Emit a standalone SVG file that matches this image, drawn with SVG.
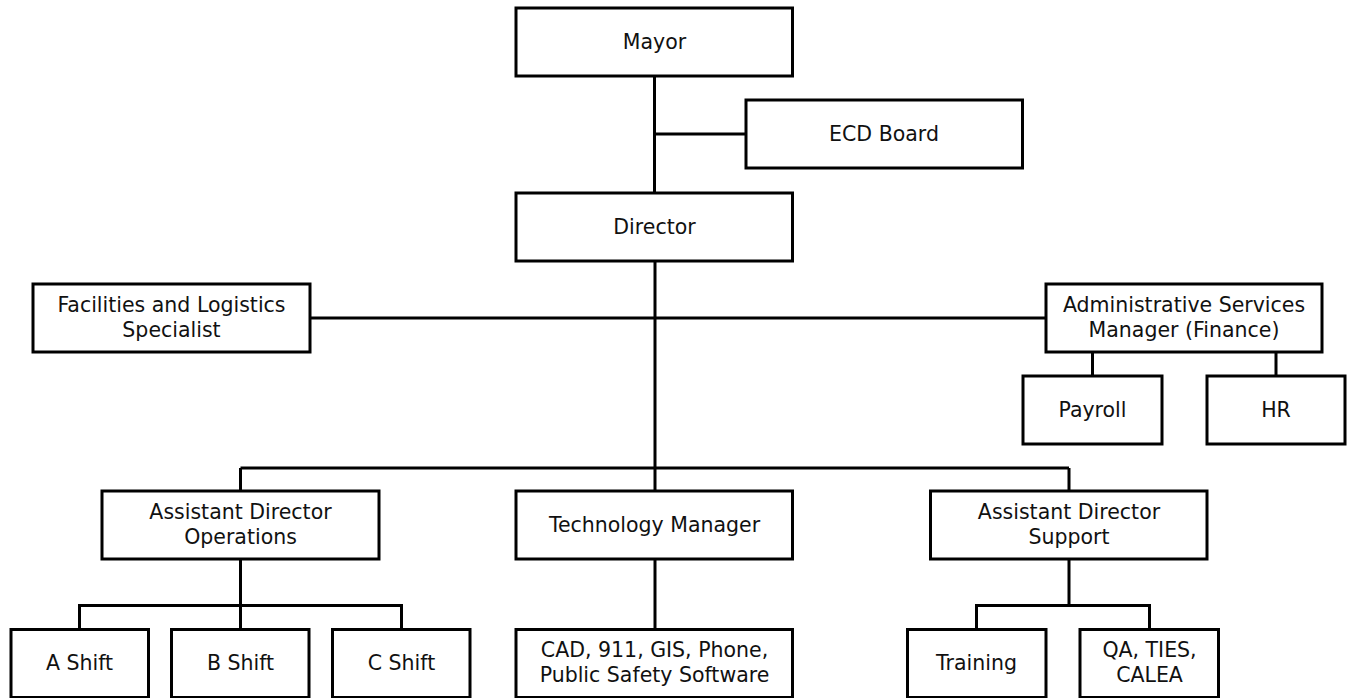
<svg xmlns="http://www.w3.org/2000/svg" width="1350" height="698" viewBox="0 0 1350 698">
<style>
.box{fill:#fff;stroke:#000;stroke-width:3}
.lbl{font-family:"DejaVu Sans",Verdana,sans-serif;font-size:20.5px;fill:#111;text-anchor:middle}
.con{stroke:#000;stroke-width:3;fill:none}
</style>
<rect width="1350" height="698" fill="#fff"/>
<g id="connectors">
<path class="con" d="M654.5 76V193M654.5 134H746"/>
<path class="con" d="M655 261V491M310 318H1046"/>
<path class="con" d="M1092.5 352V376M1276 352V376"/>
<path class="con" d="M240.5 468H1069M240.5 468V491M1069 468V491"/>
<path class="con" d="M240.5 559V629M79.5 629V605.5H401.5V629"/>
<path class="con" d="M655 559V629"/>
<path class="con" d="M1069 559V605.5M976.5 629V605.5H1149.5V629"/>
</g>
<g id="mayor"><rect class="box" x="516" y="8" width="276.5" height="68"/><text class="lbl" x="654.5" y="49">Mayor</text></g>
<g id="ecd-board"><rect class="box" x="746" y="100" width="276.5" height="68"/><text class="lbl" x="884" y="141">ECD Board</text></g>
<g id="director"><rect class="box" x="516" y="193" width="276.5" height="68"/><text class="lbl" x="654.5" y="234">Director</text></g>
<g id="facilities"><rect class="box" x="33" y="284" width="277" height="68"/><text class="lbl" x="171.5" y="312">Facilities and Logistics</text><text class="lbl" x="171.5" y="337">Specialist</text></g>
<g id="admin"><rect class="box" x="1046" y="284" width="276" height="68"/><text class="lbl" x="1184" y="312">Administrative Services</text><text class="lbl" x="1184" y="337">Manager (Finance)</text></g>
<g id="payroll"><rect class="box" x="1023" y="376" width="139" height="68"/><text class="lbl" x="1092.5" y="417">Payroll</text></g>
<g id="hr"><rect class="box" x="1207" y="376" width="138" height="68"/><text class="lbl" x="1276" y="417">HR</text></g>
<g id="ad-operations"><rect class="box" x="102" y="491" width="277" height="68"/><text class="lbl" x="240.5" y="519">Assistant Director</text><text class="lbl" x="240.5" y="544">Operations</text></g>
<g id="tech-manager"><rect class="box" x="516" y="491" width="276.5" height="68"/><text class="lbl" x="654.5" y="532">Technology Manager</text></g>
<g id="ad-support"><rect class="box" x="930.5" y="491" width="276.5" height="68"/><text class="lbl" x="1069" y="519">Assistant Director</text><text class="lbl" x="1069" y="544">Support</text></g>
<g id="a-shift"><rect class="box" x="11" y="629.5" width="137.5" height="68"/><text class="lbl" x="79.5" y="670">A Shift</text></g>
<g id="b-shift"><rect class="box" x="171.5" y="629.5" width="137.5" height="68"/><text class="lbl" x="240.5" y="670">B Shift</text></g>
<g id="c-shift"><rect class="box" x="332.5" y="629.5" width="137.5" height="68"/><text class="lbl" x="401.5" y="670">C Shift</text></g>
<g id="cad"><rect class="box" x="516" y="629.5" width="276.5" height="68"/><text class="lbl" x="654.5" y="657">CAD, 911, GIS, Phone,</text><text class="lbl" x="654.5" y="682">Public Safety Software</text></g>
<g id="training"><rect class="box" x="907.5" y="629.5" width="138.5" height="68"/><text class="lbl" x="976.5" y="670">Training</text></g>
<g id="qa"><rect class="box" x="1080" y="629.5" width="138.5" height="68"/><text class="lbl" x="1149.5" y="657">QA, TIES,</text><text class="lbl" x="1149.5" y="682">CALEA</text></g>
</svg>
